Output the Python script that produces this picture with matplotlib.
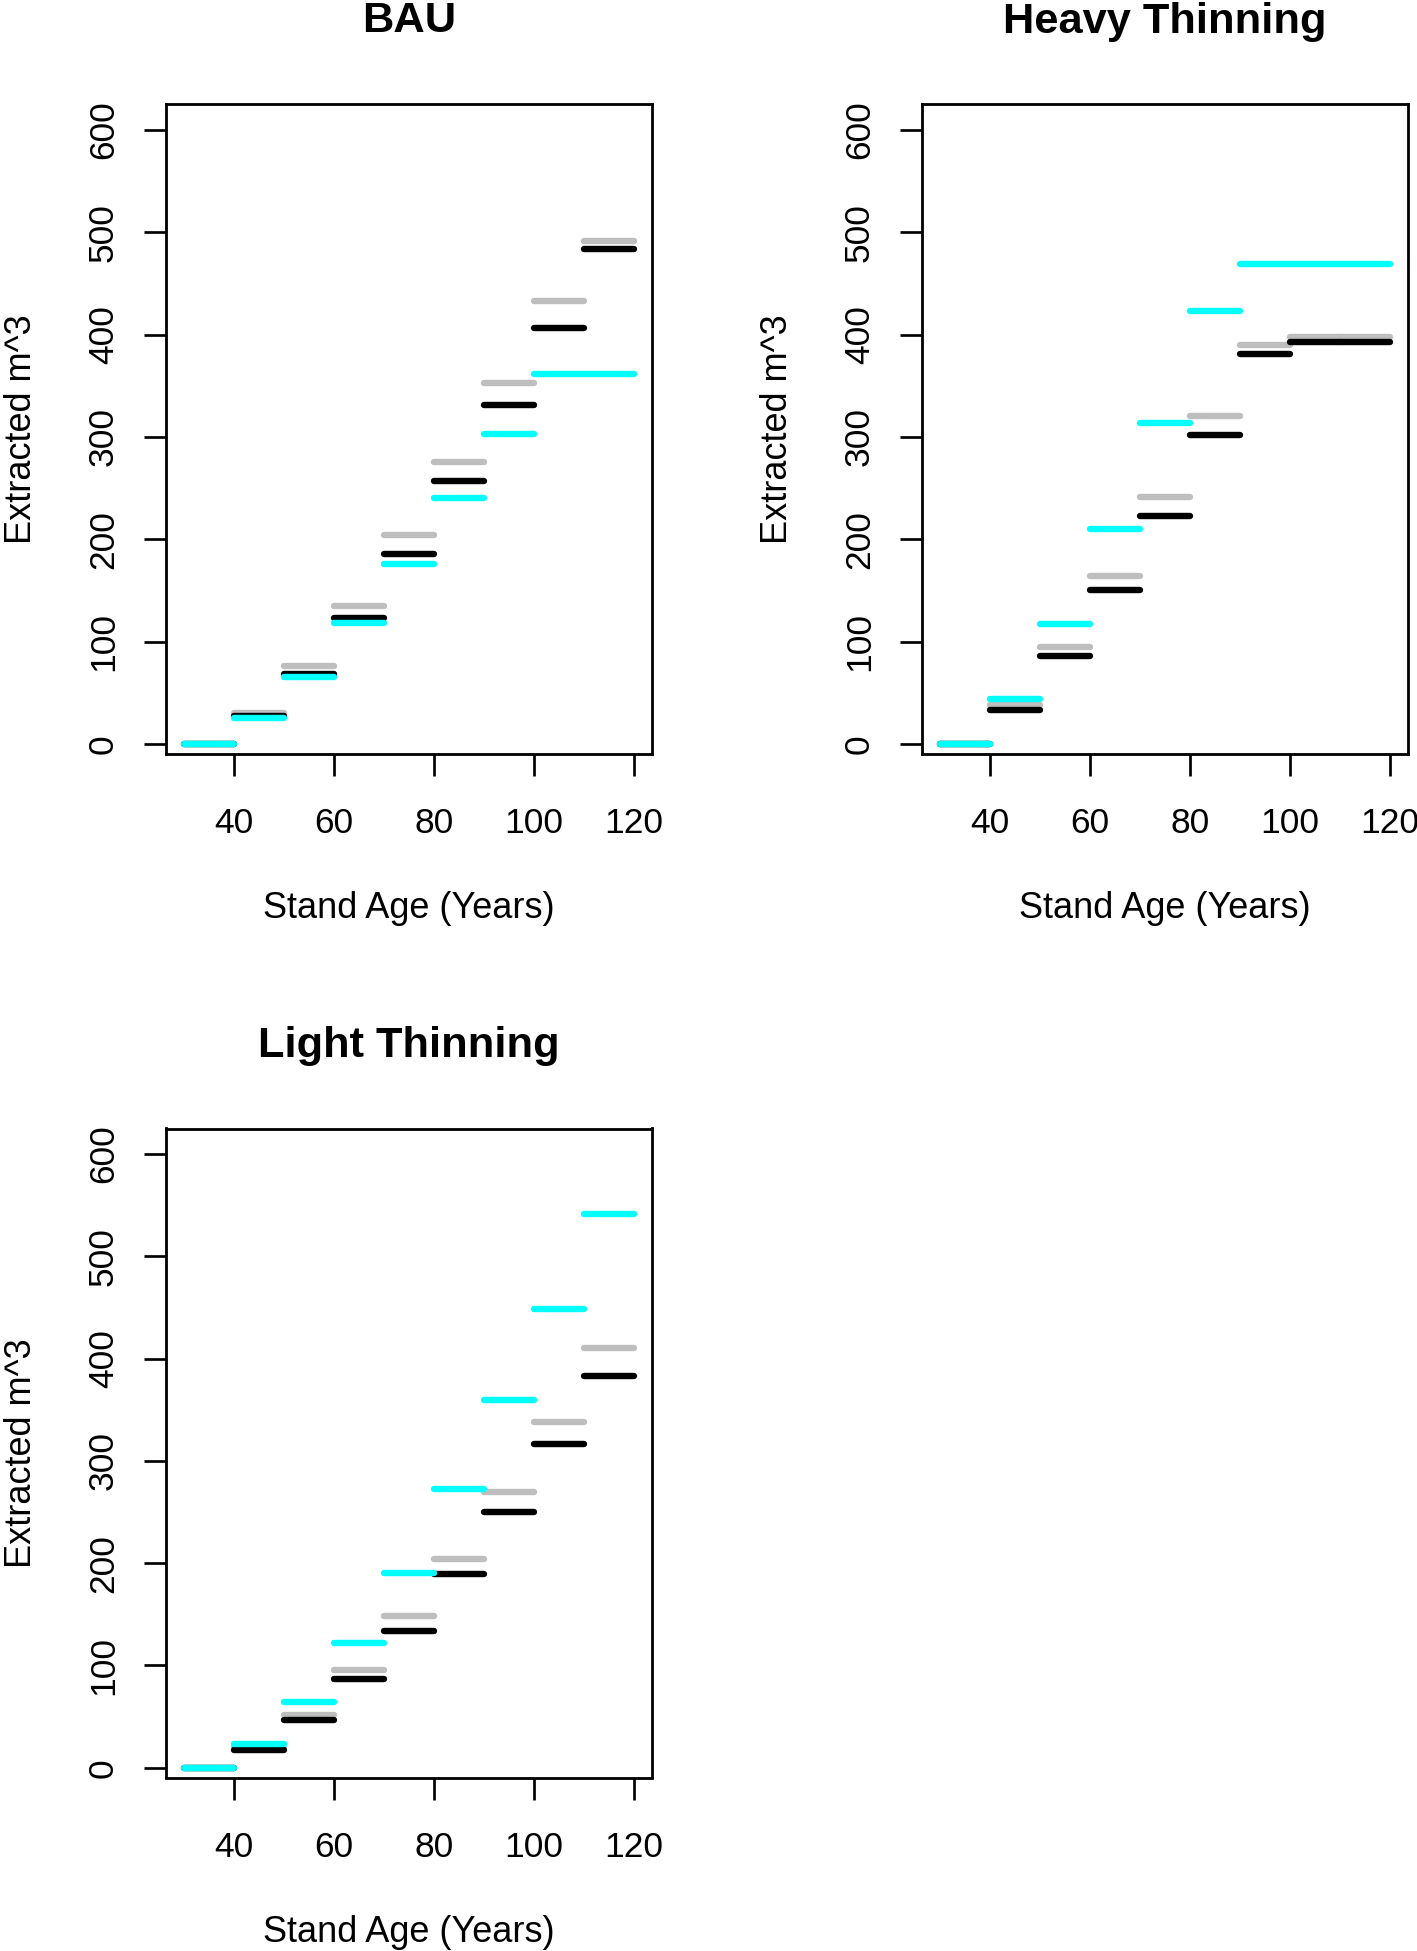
import matplotlib
matplotlib.use("Agg")
import matplotlib.pyplot as plt

plt.rcParams['font.family'] = ['Liberation Sans', 'DejaVu Sans']

# ---- data ----
age_edges = [30, 40, 50, 60, 70, 80, 90, 100, 110, 120]
x_ticks = [40, 60, 80, 100, 120]
y_ticks = [0, 100, 200, 300, 400, 500, 600]

titles = ["BAU", "Heavy Thinning", "Light Thinning"]

# values for each 10-year interval (30-40, 40-50, ..., 110-120)
bau_grey  = [0, 30, 76, 135, 204, 275, 353, 433, 491]
bau_black = [0, 27, 68, 123, 186, 257, 331, 406, 484]
bau_cyan  = [0, 25, 65, 118, 176, 240, 303, 361, 361]

heavy_grey  = [0, 38, 95, 164, 241, 320, 390, 398, 398]
heavy_black = [0, 33, 86, 150, 223, 302, 381, 393, 393]
heavy_cyan  = [0, 44, 117, 210, 314, 423, 469, 469, 469]

light_grey  = [0, 20, 52, 96, 148, 204, 270, 338, 410]
light_black = [0, 17, 47, 87, 134, 189, 250, 316, 383]
light_cyan  = [0, 23, 64, 122, 190, 272, 359, 448, 541]

series_colors = ["#BEBEBE", "#000000", "#00FFFF"]

panels = [
    (bau_grey, bau_black, bau_cyan),
    (heavy_grey, heavy_black, heavy_cyan),
    (light_grey, light_black, light_cyan),
]

# ---- layout (pixels) ----
W, H = 1417, 1951
DPI = 100
fig = plt.figure(figsize=(W / DPI, H / DPI), dpi=DPI)

def frac_rect(left, top, right, bottom):
    return [left / W, 1 - bottom / H, (right - left) / W, (bottom - top) / H]

rects = [
    frac_rect(166, 104.5, 651.7, 753.6),
    frac_rect(922, 104.5, 1407.7, 753.6),
    frac_rect(166, 1128.5, 651.7, 1777.5),
]

px = 72.0 / DPI  # points per pixel

for rect, title, vals in zip(rects, titles, panels):
    ax = fig.add_axes(rect)
    ax_w_px = rect[2] * W
    ax_h_px = rect[3] * H
    xs = age_edges[:-1]
    xe = age_edges[1:]
    for v, c in zip(vals, series_colors):
        lc = ax.hlines(v, xs, xe, colors=c, linewidth=6.4 * px)
        lc.set_capstyle('round')
    ax.set_xlim(26.4, 123.6)
    ax.set_ylim(-9.5, 624.8)
    ax.set_xticks(x_ticks)
    ax.set_yticks(y_ticks)
    ax.set_xticklabels([str(t) for t in x_ticks])
    ax.set_yticklabels([str(t) for t in y_ticks], rotation=90,
                       va='center', ha='right')
    ax.tick_params(axis='both', direction='out', length=22 * px,
                   width=2.7 * px, labelsize=25.5, colors='black')
    ax.tick_params(axis='x', pad=31 * px)
    ax.tick_params(axis='y', pad=24 * px)
    for s in ax.spines.values():
        s.set_linewidth(2.8 * px)
        s.set_color('black')

    ax.set_title(title, fontsize=31.2, fontweight='bold', y=1 + 72 / ax_h_px,
                 pad=0, va='baseline')

    ax.set_xlabel("Stand Age (Years)", fontsize=26)
    ax.xaxis.set_label_coords(0.5, -164 / ax_h_px)
    ax.xaxis.label.set_va('baseline')

    ax.set_ylabel("Extracted m^3", fontsize=26)
    ax.yaxis.set_label_coords(-135 / ax_w_px, 0.5)
    ax.yaxis.label.set_rotation_mode('anchor')
    ax.yaxis.label.set_va('baseline')
    ax.yaxis.label.set_ha('center')

fig.savefig("out.png", dpi=DPI, facecolor='white')
